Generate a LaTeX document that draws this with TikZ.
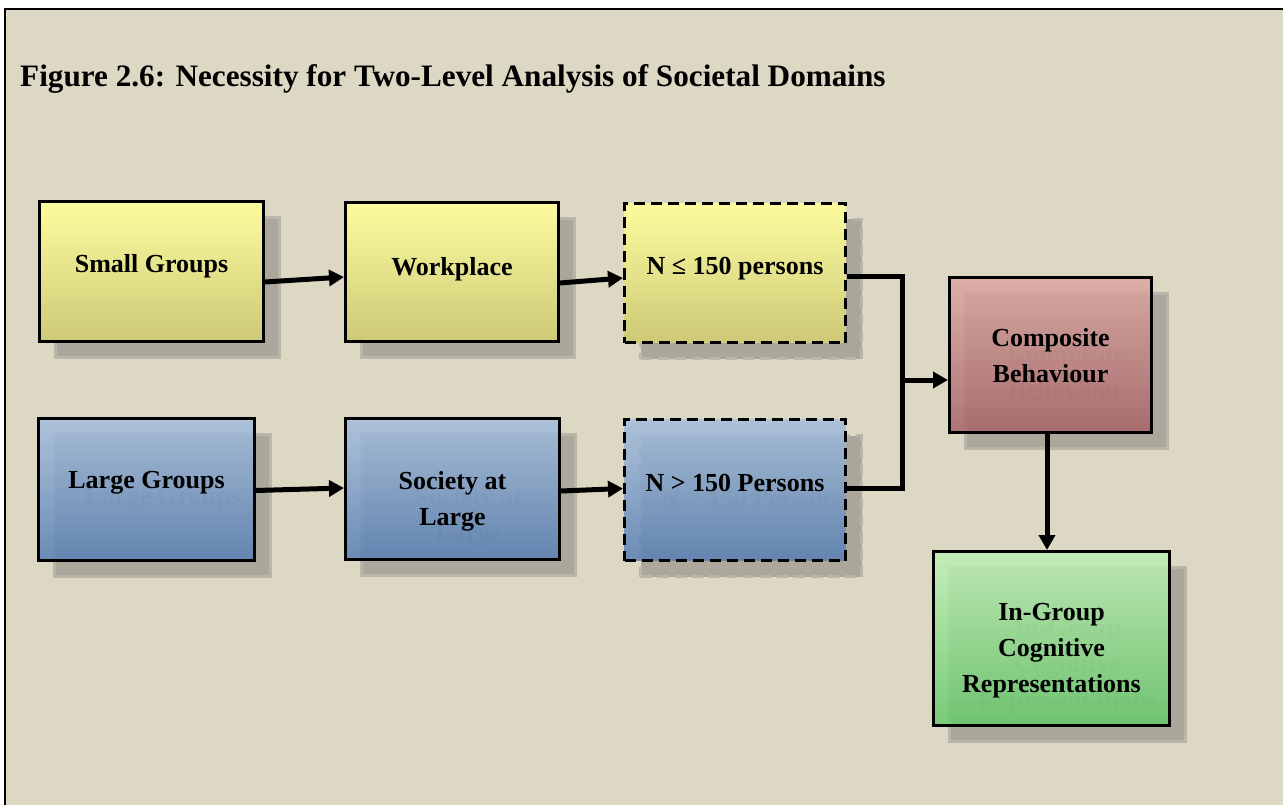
\documentclass[tikz,border=0pt]{standalone}
\usepackage{fontspec}
\setmainfont{Liberation Serif}
\usetikzlibrary{arrows.meta}
\definecolor{pagebg}{HTML}{DDD8C3}
\definecolor{shadowfill}{HTML}{ABA89B}
\definecolor{shadowedge}{HTML}{BAB6A9}
\definecolor{ghostink}{HTML}{918E82}
\definecolor{yeltop}{HTML}{FCFC9E}
\definecolor{yelbot}{HTML}{CDC977}
\definecolor{bluetop}{HTML}{A6BFDE}
\definecolor{bluebot}{HTML}{577FB4}
\definecolor{redtop}{HTML}{DDA8A3}
\definecolor{redbot}{HTML}{A76367}
\definecolor{greentop}{HTML}{C0F1B6}
\definecolor{greenbot}{HTML}{65C96A}
\tikzset{
  box/.style={rectangle, draw=black, line width=3pt, inner sep=0pt},
  dashedbox/.style={box, dash pattern=on 11pt off 6pt},
  yellowbox/.style={top color=yeltop, bottom color=yelbot},
  bluebox/.style={top color=bluetop, bottom color=bluebot, fill opacity=0.85},
  redbox/.style={top color=redtop, bottom color=redbot, fill opacity=0.85},
  greenbox/.style={top color=greentop, bottom color=greenbot, fill opacity=0.85},
  shadowbox/.style={rectangle, fill=shadowfill, draw=shadowedge, line width=3pt, inner sep=0pt},
  dashedshadow/.style={shadowbox, dash pattern=on 11pt off 6pt},
  boxtext/.style={font=\fontsize{26}{36}\selectfont\bfseries, align=center, inner sep=0pt},
  ghosttext/.style={boxtext, text=ghostink},
  conn/.style={line width=5pt, -{Triangle[length=15pt,width=16pt]}},
  wire/.style={line width=5pt},
}
\begin{document}
\begin{tikzpicture}[x=1pt,y=-1pt]
\useasboundingbox (0,0) rectangle (1283,805);
% page and frame
\fill[white] (0,0) rectangle (1283,805);
\fill[pagebg] (5,9) rectangle (1283,805);
\draw[line width=2.5pt] (5,805) -- (5,9) -- (1283,9);

\node[anchor=base west, inner sep=0pt, font=\fontsize{31.2}{36}\selectfont\bfseries] (title) at (20,87)
  {Figure 2.6: Necessity for Two-Level Analysis of Societal Domains};

% drop shadows
\node[shadowbox, minimum width=224pt, minimum height=140pt] (sgs) at (167.5,287.5) {};
\node[shadowbox, minimum width=213pt, minimum height=139pt] (wps) at (468,288) {};
\node[dashedshadow, minimum width=221pt, minimum height=139pt] (n1s) at (751,289) {};
\node[shadowbox, minimum width=216pt, minimum height=142pt] (lgs) at (162.5,505.5) {};
\node[shadowbox, minimum width=214pt, minimum height=141pt] (sas) at (468.5,505) {};
\node[dashedshadow, minimum width=221pt, minimum height=141pt] (n2s) at (751,506) {};
\node[shadowbox, minimum width=202pt, minimum height=155pt] (cbs) at (1066.5,371) {};
\node[shadowbox, minimum width=236pt, minimum height=174pt] (igs) at (1067.5,654.5) {};

% texts of the shadows, seen through the translucent boxes
\node[ghosttext] at (162.5,499) {Large Groups};
\node[ghosttext] at (468.5,517) {Society at\\Large};
\node[ghosttext] at (751,499) {N > 150 Persons};
\node[ghosttext] at (1066.5,372) {Composite\\Behaviour};
\node[ghosttext] at (1067.5,667) {In-Group\\Cognitive\\Representations};

% boxes
\node[box, yellowbox, minimum width=224pt, minimum height=140pt] (sg) at (151.5,271.5) {};
\node[box, yellowbox, minimum width=213pt, minimum height=139pt] (wp) at (452,272) {};
\node[dashedbox, yellowbox, minimum width=221pt, minimum height=139pt] (n1) at (735,273) {};
\node[box, bluebox, minimum width=216pt, minimum height=142pt] (lg) at (146.5,489.5) {};
\node[box, bluebox, minimum width=214pt, minimum height=141pt] (sa) at (452.5,489) {};
\node[dashedbox, bluebox, minimum width=221pt, minimum height=141pt] (n2) at (735,490) {};
\node[box, redbox, minimum width=202pt, minimum height=155pt] (cb) at (1050.5,355) {};
\node[box, greenbox, minimum width=236pt, minimum height=174pt] (ig) at (1051.5,638.5) {};

% box labels
\node[boxtext] at (sg.center) [yshift=5.5pt] {Small Groups};
\node[boxtext] at (wp.center) [yshift=3pt] {Workplace};
\node[boxtext] at (n1.center) [yshift=4pt] {N ≤ 150 persons};
\node[boxtext] at (lg.center) [yshift=6.5pt] {Large Groups};
\node[boxtext] at (sa.center) [yshift=-12pt] {Society at\\Large};
\node[boxtext] at (n2.center) [yshift=7pt] {N > 150 Persons};
\node[boxtext] at (cb.center) [yshift=-1pt] {Composite\\Behaviour};
\node[boxtext] at (ig.center) [yshift=-12.5pt] {In-Group\\Cognitive\\Representations};

% connectors
\draw[conn] ([yshift=-10.5pt]sg.east) -- ([yshift=-5pt]wp.west);
\draw[conn] ([yshift=-11pt]wp.east) -- ([yshift=-5pt]n1.west);
\draw[conn] ([yshift=-1pt]lg.east) -- ([yshift=1pt]sa.west);
\draw[conn] ([yshift=-2pt]sa.east) -- ([yshift=1.5pt]n2.west);
\coordinate (bus) at (902,380);
\draw[wire] ([yshift=-4pt]n1.east) -| (bus) |- ([yshift=1.5pt]n2.east);
\draw[conn] (bus) -- (cb.west |- bus);
\draw[conn] ([xshift=-3.5pt]cb.south) -- ([xshift=-3.5pt]cb.south |- ig.north);
\end{tikzpicture}
\end{document}
